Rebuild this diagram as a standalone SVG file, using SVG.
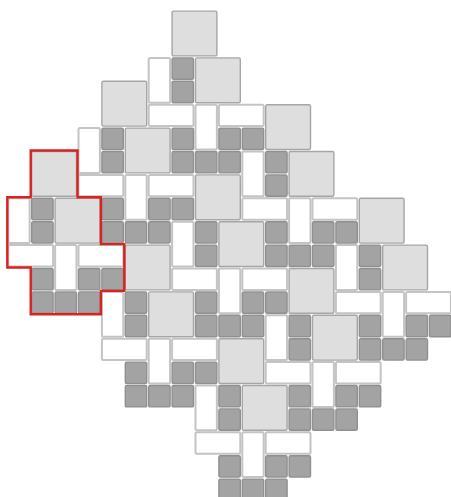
<svg xmlns="http://www.w3.org/2000/svg" xmlns:xlink="http://www.w3.org/1999/xlink" width="451" height="497" viewBox="0 0 451 497">
<style>
.d{fill:#a3a3a3;stroke:#909090;stroke-width:1.4}
.l{fill:#dedede;stroke:#a6a6a6;stroke-width:1.4}
.w{fill:#ffffff;stroke:#c4c4c4;stroke-width:2}
.outline{fill:none;stroke:#d92222;stroke-width:2.4;stroke-linejoin:miter}
</style>
<defs>
<g id="tile">
<rect class="l" x="24.4" y="1" width="44.8" height="44.8" rx="1.5"/>
<rect class="w" x="1" y="47.8" width="21.4" height="44.8" rx="1.5"/>
<rect class="d" x="24.4" y="47.8" width="21.4" height="21.4" rx="1.5"/>
<rect class="d" x="24.4" y="71.2" width="21.4" height="21.4" rx="1.5"/>
<rect class="l" x="47.8" y="47.8" width="44.8" height="44.8" rx="1.5"/>
<rect class="w" x="1" y="94.6" width="44.8" height="21.4" rx="1.5"/>
<rect class="w" x="47.8" y="94.6" width="21.4" height="44.8" rx="1.5"/>
<rect class="w" x="71.2" y="94.6" width="44.8" height="21.4" rx="1.5"/>
<rect class="d" x="24.4" y="118" width="21.4" height="21.4" rx="1.5"/>
<rect class="d" x="71.2" y="118" width="21.4" height="21.4" rx="1.5"/>
<rect class="d" x="94.6" y="118" width="21.4" height="21.4" rx="1.5"/>
<rect class="d" x="24.4" y="141.4" width="21.4" height="21.4" rx="1.5"/>
<rect class="d" x="47.8" y="141.4" width="21.4" height="21.4" rx="1.5"/>
<rect class="d" x="71.2" y="141.4" width="21.4" height="21.4" rx="1.5"/>
</g>
</defs>
<g id="tiles">
<use id="t00" xlink:href="#tile" href="#tile" transform="translate(7.3,150.5)"/>
<use id="t10" xlink:href="#tile" href="#tile" transform="translate(77.5,80.3)"/>
<use id="t20" xlink:href="#tile" href="#tile" transform="translate(147.7,10.1)"/>
<use id="t01" xlink:href="#tile" href="#tile" transform="translate(100.9,244.1)"/>
<use id="t11" xlink:href="#tile" href="#tile" transform="translate(171.1,173.9)"/>
<use id="t21" xlink:href="#tile" href="#tile" transform="translate(241.3,103.7)"/>
<use id="t02" xlink:href="#tile" href="#tile" transform="translate(194.5,337.7)"/>
<use id="t12" xlink:href="#tile" href="#tile" transform="translate(264.7,267.5)"/>
<use id="t22" xlink:href="#tile" href="#tile" transform="translate(334.9,197.3)"/>
</g>
<g id="highlight">
<path class="outline" d="M30.7 150.5 H77.5 V197.3 H100.9 V244.1 H124.3 V290.9 H100.9 V314.3 H30.7 V267.5 H7.3 V197.3 H30.7 Z"/>
</g>
</svg>
